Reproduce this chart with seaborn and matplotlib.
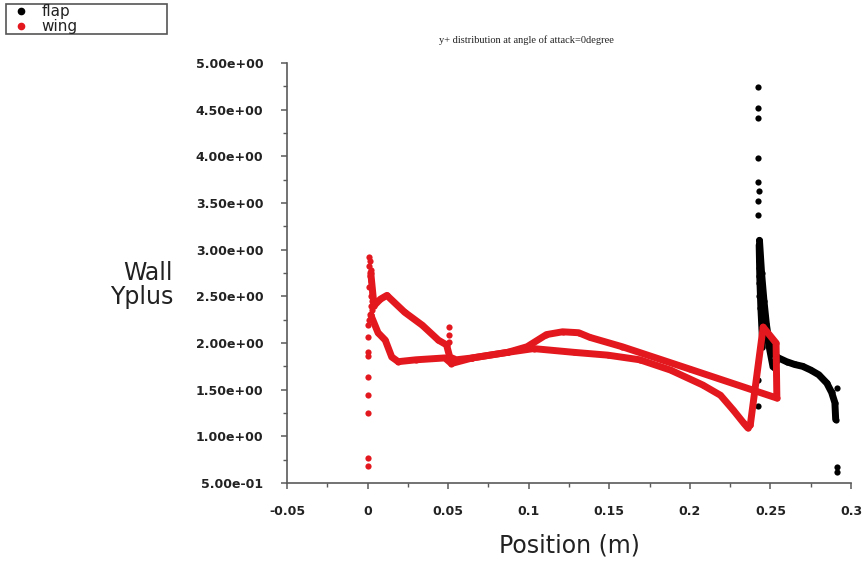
import matplotlib
matplotlib.use("Agg")
import matplotlib.pyplot as plt
import seaborn as sns
from matplotlib.lines import Line2D
from matplotlib.ticker import MultipleLocator, FormatStrFormatter, FuncFormatter

# ---------------- data ----------------
# wing: scattered points at the leading edge (x ~ 0)
wing_le_x = [0.001, 0.0015, 0.001, 0.002, 0.0015, 0.002, 0.001, 0.0025, 0.002, 0.003,
             0.002, 0.003, 0.002, 0.001, 0.0005, 0.0005, 0.0, 0.0, 0.0, 0.0, 0.0, 0.0, 0.0]
wing_le_y = [2.92, 2.88, 2.83, 2.78, 2.72, 2.66, 2.60, 2.55, 2.50, 2.45,
             2.40, 2.35, 2.30, 2.25, 2.19, 2.06, 1.90, 1.86, 1.64, 1.44, 1.25, 0.77, 0.68]
# wing: upper surface band
wing_upper_x = [0.002, 0.004, 0.008, 0.012, 0.023, 0.034, 0.044, 0.049, 0.051, 0.055,
                0.065, 0.087, 0.099, 0.111, 0.121, 0.131, 0.138, 0.158, 0.200, 0.254,
                0.2535, 0.2455]
wing_upper_y = [2.75, 2.40, 2.47, 2.51, 2.33, 2.19, 2.03, 1.98, 1.85, 1.82,
                1.84, 1.90, 1.96, 2.09, 2.12, 2.11, 2.06, 1.96, 1.72, 1.41,
                2.00, 2.17]
# wing: lower surface band
wing_lower_x = [0.002, 0.0065, 0.011, 0.015, 0.019, 0.030, 0.048, 0.052, 0.065, 0.087,
                0.103, 0.128, 0.149, 0.169, 0.188, 0.208, 0.219, 0.227, 0.2335, 0.236,
                0.2375, 0.2455]
wing_lower_y = [2.30, 2.11, 2.03, 1.85, 1.80, 1.82, 1.84, 1.78, 1.84, 1.90,
                1.94, 1.90, 1.87, 1.82, 1.71, 1.55, 1.44, 1.28, 1.14, 1.09,
                1.12, 2.17]
# wing: small spike at x ~ 0.05
wing_spike_x = [0.0505, 0.0505, 0.0505]
wing_spike_y = [2.17, 2.09, 2.01]

# flap: isolated points
flap_pts_x = [0.2425, 0.2424, 0.2425, 0.2424, 0.2425, 0.2426, 0.2425, 0.2425, 0.2427, 0.2428,
              0.2426, 0.2429, 0.2430, 0.2428, 0.2431, 0.2432, 0.2430, 0.2433, 0.2425, 0.2422,
              0.2915, 0.2912, 0.2912]
flap_pts_y = [4.74, 4.52, 4.41, 3.98, 3.73, 3.63, 3.52, 3.37, 3.10, 3.06,
              3.02, 2.96, 2.88, 2.80, 2.72, 2.64, 2.50, 2.38, 1.60, 1.33,
              1.52, 0.67, 0.62]
# flap: main band
flap_band_x = [0.2432, 0.2445, 0.2460, 0.2475, 0.2490, 0.2500, 0.2520, 0.2550, 0.2600,
               0.2650, 0.2700, 0.2750, 0.2800, 0.2850, 0.2880, 0.2900, 0.2905]
flap_band_y = [3.10, 2.75, 2.45, 2.20, 2.02, 1.95, 1.88, 1.84, 1.80,
               1.77, 1.75, 1.71, 1.66, 1.57, 1.47, 1.36, 1.18]
# flap: inner column of the dense region near the leading edge
flap_col_x = [0.2428, 0.2432, 0.2438, 0.2445, 0.2452]
flap_col_y = [3.05, 2.70, 2.40, 2.15, 1.95]
# flap: short inner arm near x ~ 0.25
flap_arm_x = [0.2470, 0.2490, 0.2510, 0.2525, 0.2545]
flap_arm_y = [2.12, 1.92, 1.74, 1.72, 1.80]

series_labels = ["flap", "wing"]
x_ticks = [-0.05, 0, 0.05, 0.1, 0.15, 0.2, 0.25, 0.3]
title_text = "y+ distribution at angle of attack=0degree"

# ---------------- style ----------------
sns.set_style("ticks")
plt.rcParams['font.family'] = ['DejaVu Sans']

RED = "#e3171e"
BLACK = "#000000"

fig = plt.figure(figsize=(8.65, 5.63), dpi=100)
W, H = 865, 563
ax = fig.add_axes([287 / W, 1 - 483 / H, (851 - 287) / W, (483 - 63) / H])

# flap (drawn first, wing on top)
sns.lineplot(x=flap_band_x, y=flap_band_y, sort=False, estimator=None, color=BLACK,
             linewidth=5.0, solid_capstyle="round", solid_joinstyle="round", ax=ax)
sns.lineplot(x=flap_col_x, y=flap_col_y, sort=False, estimator=None, color=BLACK,
             linewidth=4.5, solid_capstyle="round", solid_joinstyle="round", ax=ax)
sns.lineplot(x=flap_arm_x, y=flap_arm_y, sort=False, estimator=None, color=BLACK,
             linewidth=3.5, solid_capstyle="round", ax=ax)
sns.scatterplot(x=flap_pts_x + flap_band_x, y=flap_pts_y + flap_band_y, color=BLACK,
                s=20, linewidth=0, ax=ax)

# wing
for xs, ys in [(wing_upper_x, wing_upper_y), (wing_lower_x, wing_lower_y)]:
    sns.lineplot(x=xs, y=ys, sort=False, estimator=None, color=RED, linewidth=5.0,
                 solid_capstyle="round", solid_joinstyle="round", ax=ax)
sns.scatterplot(x=wing_le_x + wing_spike_x + wing_upper_x + wing_lower_x,
                y=wing_le_y + wing_spike_y + wing_upper_y + wing_lower_y,
                color=RED, s=20, linewidth=0, ax=ax)

# axes
ax.set_xlim(-0.05, 0.3)
ax.set_ylim(0.5, 5.0)
ax.set_xticks(x_ticks)
ax.xaxis.set_major_formatter(FuncFormatter(lambda v, p: "%g" % round(v, 3)))
ax.xaxis.set_minor_locator(MultipleLocator(0.025))
ax.yaxis.set_major_locator(MultipleLocator(0.5))
ax.yaxis.set_minor_locator(MultipleLocator(0.25))
ax.yaxis.set_major_formatter(FormatStrFormatter("%.2e"))
for s in ["top", "right"]:
    ax.spines[s].set_visible(False)
for s in ["left", "bottom"]:
    ax.spines[s].set_color("#5a5a5a")
    ax.spines[s].set_linewidth(1.2)
ax.tick_params(which="major", direction="out", length=4, width=1.1, color="#5a5a5a",
               labelsize=9, labelcolor="#222222")
ax.tick_params(which="minor", direction="out", length=3, width=1.0, color="#5a5a5a")
ax.tick_params(axis="y", which="major", pad=13)
ax.tick_params(axis="x", which="major", pad=12)
for lab in ax.get_xticklabels() + ax.get_yticklabels():
    lab.set_fontweight("bold")
ax.set_xlabel("")
ax.set_ylabel("")

fig.text(569 / W, 1 - 545 / H, "Position (m)", ha="center", va="center",
         fontsize=17, color="#222222")
fig.text(173 / W, 1 - 285 / H, "Wall\nYplus", ha="right", va="center",
         fontsize=17, color="#222222", linespacing=0.95, multialignment="right")
fig.text(526 / W, 1 - 40 / H, title_text, ha="center", va="center",
         fontsize=7.5, family="Liberation Serif", color="#222222")

handles = [Line2D([], [], ls="", marker="o", ms=4.5, color=BLACK),
           Line2D([], [], ls="", marker="o", ms=4.5, color=RED)]
leg = fig.legend(handles, series_labels, loc="upper left",
                 bbox_to_anchor=(6 / W, 1 - 36 / H, 161 / W, 32 / H), mode="expand",
                 fontsize=11, frameon=True, fancybox=False, framealpha=1,
                 edgecolor="#555555", borderpad=0.0, labelspacing=0.0,
                 handlelength=2.0, handletextpad=0.3, borderaxespad=0)
leg.get_frame().set_linewidth(1.2)
for t in leg.get_texts():
    t.set_color("#222222")

fig.savefig("out.png", dpi=100)
